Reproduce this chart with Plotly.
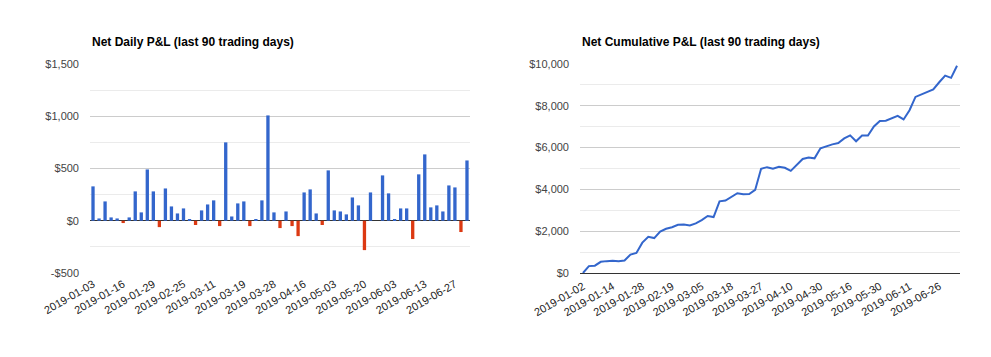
import plotly.graph_objects as go

# ---- data ----
daily_dates = [
    "2019-01-03", "2019-01-07", "2019-01-09", "2019-01-11", "2019-01-14",
    "2019-01-16", "2019-01-18", "2019-01-22", "2019-01-24", "2019-01-28",
    "2019-01-29", "2019-01-31", "2019-02-05", "2019-02-12", "2019-02-19",
    "2019-02-25", "2019-02-27", "2019-03-01", "2019-03-04", "2019-03-05",
    "2019-03-11", "2019-03-12", "2019-03-13", "2019-03-15", "2019-03-18",
    "2019-03-19", "2019-03-21", "2019-03-25", "2019-03-26", "2019-03-27",
    "2019-03-28", "2019-04-01", "2019-04-03", "2019-04-08", "2019-04-10",
    "2019-04-16", "2019-04-18", "2019-04-23", "2019-04-26", "2019-04-30",
    "2019-05-03", "2019-05-07", "2019-05-09", "2019-05-14", "2019-05-16",
    "2019-05-20", "2019-05-22", "2019-05-24", "2019-05-29", "2019-05-30",
    "2019-06-03", "2019-06-05", "2019-06-06", "2019-06-10", "2019-06-11",
    "2019-06-13", "2019-06-17", "2019-06-19", "2019-06-24", "2019-06-26",
    "2019-06-27", "2019-06-28", "2019-07-01",
]
daily_pnl = [
    329, 22, 185, 32, 22, -22, 32, 281, 80, 491,
    281, -61, 309, 137, 70, 118, 13, -41, 99, 156,
    195, -51, 750, 41, 166, 185, -51, 13, 195, 1008,
    80, -70, 89, -51, -147, 271, 300, 70, -41, 482,
    99, 89, 61, 223, 147, -281, 271, 0, 434, 262,
    13, 118, 118, -175, 444, 635, 128, 147, 89, 338,
    319, -108, 577,
]
cum_dates = ["2019-01-02"] + daily_dates
cum_pnl = [
    0, 329, 351, 536, 568, 590, 568, 600, 881, 961, 1452,
    1733, 1672, 1981, 2118, 2188, 2306, 2319, 2278, 2377, 2533,
    2728, 2677, 3427, 3468, 3634, 3819, 3768, 3781, 3976, 4984,
    5064, 4994, 5083, 5032, 4885, 5156, 5456, 5526, 5485, 5967,
    6066, 6155, 6216, 6439, 6586, 6305, 6576, 6576, 7010, 7272,
    7285, 7403, 7521, 7346, 7790, 8425, 8553, 8700, 8789, 9127,
    9446, 9338, 9915,
]
daily_ytick_vals = [-500, 0, 500, 1000, 1500]
daily_ytick_text = ["-$500", "$0", "$500", "$1,000", "$1,500"]
cum_ytick_vals = [0, 2000, 4000, 6000, 8000, 10000]
cum_ytick_text = ["$0", "$2,000", "$4,000", "$6,000", "$8,000", "$10,000"]
title_daily = "Net Daily P&L (last 90 trading days)"
title_cum = "Net Cumulative P&L (last 90 trading days)"

BLUE = "#3366cc"
RED = "#dc3912"
OFF = 8                      # default page body margin
W, H = 991 - OFF, 357 - OFF  # figure size
FONT = "Arial, Liberation Sans, sans-serif"


def px(x):
    return (x - OFF) / W


def py(y):
    return 1 - (y - OFF) / H


bar_colors = [BLUE if v >= 0 else RED for v in daily_pnl]

fig = go.Figure()
fig.add_trace(go.Bar(x=daily_dates, y=daily_pnl, marker_color=bar_colors,
                     marker_line_width=0, xaxis="x", yaxis="y"))
fig.add_trace(go.Scatter(x=cum_dates, y=cum_pnl, mode="lines",
                         line=dict(color=BLUE, width=2), xaxis="x2", yaxis="y2"))

ytop = py(64)
ybot = py(273)

common_x = dict(type="category", showgrid=False, zeroline=False, ticks="",
                tickangle=-30, tickfont=dict(family=FONT, size=11, color="#222"),
                ticklabelstandoff=2, automargin=False)
common_y = dict(tickmode="array", showgrid=True, gridcolor="#cccccc", gridwidth=1,
                zeroline=True, zerolinecolor="#333333", zerolinewidth=1,
                tickfont=dict(family=FONT, size=11, color="#444"),
                ticks="", ticklabelstandoff=10, automargin=False)

fig.update_layout(
    width=W, height=H,
    margin=dict(l=0, r=0, t=0, b=0, autoexpand=False),
    paper_bgcolor="white", plot_bgcolor="white",
    showlegend=False, bargap=0.45,
    xaxis=dict(common_x, domain=[px(90), px(470)], anchor="y",
               tickmode="array", tickvals=daily_dates[::5],
               range=[-0.5, len(daily_dates) - 0.5]),
    yaxis=dict(common_y, domain=[ybot, ytop], anchor="x",
               range=[-500, 1500], tickvals=daily_ytick_vals, ticktext=daily_ytick_text,
               minor=dict(tickmode="linear", tick0=0, dtick=250, showgrid=True,
                          gridcolor="#ebebeb", ticks="")),
    xaxis2=dict(common_x, domain=[px(580), px(960)], anchor="y2",
                tickmode="array", tickvals=cum_dates[::5],
                range=[-0.5, len(cum_dates) - 0.5],
                showline=True, linecolor="#333333", linewidth=1),
    yaxis2=dict(common_y, domain=[ybot, ytop], anchor="x2",
                range=[0, 10000], tickvals=cum_ytick_vals, ticktext=cum_ytick_text,
                minor=dict(tickmode="linear", tick0=0, dtick=1000, showgrid=True,
                           gridcolor="#ebebeb", ticks="")),
    annotations=[
        dict(text="<b>" + title_daily + "</b>", x=px(90), y=py(42),
             xref="paper", yref="paper", xanchor="left", yanchor="middle",
             showarrow=False, font=dict(family=FONT, size=12, color="#000")),
        dict(text="<b>" + title_cum + "</b>", x=px(580), y=py(42),
             xref="paper", yref="paper", xanchor="left", yanchor="middle",
             showarrow=False, font=dict(family=FONT, size=12, color="#000")),
    ],
)

fig.write_html("out.html")
